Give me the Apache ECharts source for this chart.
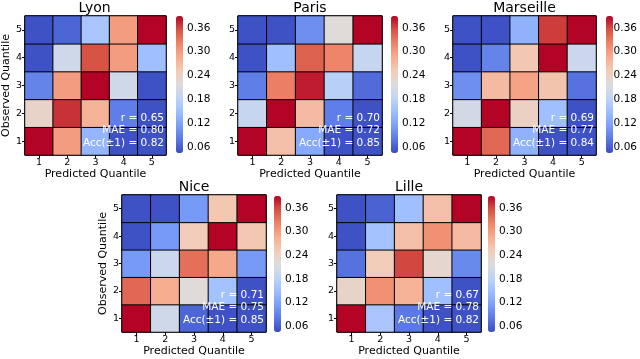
<!DOCTYPE html>
<html>
<head>
<meta charset="utf-8">
<script src="https://cdn.jsdelivr.net/npm/echarts@6/dist/echarts.min.js"></script>
<style>
  html, body { margin: 0; padding: 0; background: #fff; }
  #main { width: 640px; height: 359px; }
</style>
</head>
<body>
<div id="main"></div>
<script>
// data: confusion matrices, rows = observed quantile 1..5, cols = predicted 1..5
var cities = ['Lyon', 'Paris', 'Marseille', 'Nice', 'Lille'];
var quantiles = ['1', '2', '3', '4', '5'];
var cbTicks = [0.06, 0.12, 0.18, 0.24, 0.30, 0.36];
var lyon = [
  [0.39, 0.30, 0.14, 0.05, 0.05],
  [0.235, 0.37, 0.28, 0.085, 0.05],
  [0.09, 0.30, 0.39, 0.20, 0.05],
  [0.05, 0.20, 0.355, 0.30, 0.15],
  [0.05, 0.065, 0.16, 0.30, 0.39]
];
var paris = [
  [0.39, 0.265, 0.125, 0.05, 0.05],
  [0.19, 0.39, 0.27, 0.085, 0.05],
  [0.085, 0.325, 0.38, 0.175, 0.07],
  [0.05, 0.15, 0.345, 0.32, 0.19],
  [0.05, 0.05, 0.10, 0.22, 0.39]
];
var marseille = [
  [0.39, 0.34, 0.135, 0.05, 0.05],
  [0.205, 0.39, 0.24, 0.15, 0.05],
  [0.10, 0.27, 0.295, 0.26, 0.075],
  [0.05, 0.09, 0.255, 0.39, 0.195],
  [0.05, 0.05, 0.135, 0.365, 0.39]
];
var nice = [
  [0.39, 0.20, 0.065, 0.05, 0.05],
  [0.34, 0.285, 0.22, 0.155, 0.05],
  [0.11, 0.195, 0.335, 0.29, 0.11],
  [0.05, 0.11, 0.25, 0.39, 0.255],
  [0.05, 0.05, 0.11, 0.255, 0.39]
];
var lille = [
  [0.39, 0.16, 0.08, 0.05, 0.05],
  [0.235, 0.31, 0.28, 0.15, 0.05],
  [0.075, 0.25, 0.36, 0.23, 0.095],
  [0.05, 0.155, 0.265, 0.31, 0.27],
  [0.05, 0.062, 0.15, 0.265, 0.39]
];
var rVals = ['0.65', '0.70', '0.69', '0.71', '0.67'];
var maeVals = ['0.80', '0.72', '0.77', '0.75', '0.78'];
var accVals = ['0.82', '0.85', '0.84', '0.85', '0.82'];
var matrices = [lyon, paris, marseille, nice, lille];

var vmin = 0.045, vmax = 0.39;
var coolwarm = ['#3b4cc0', '#5a78e4', '#7b9ff9', '#9ebeff', '#c0d4f5', '#dddcdc',
                '#f2cbb7', '#f7ac8e', '#ee8468', '#d65244', '#b40426'];

// layout of each panel (plot box + colorbar)
var panels = [
  { left: 23,  top: 16,  w: 143, h: 139, cb: 176, cbTop: 16,  cbH: 137, ylab: true },
  { left: 238, top: 16,  w: 144, h: 139, cb: 391, cbTop: 16,  cbH: 137, ylab: false },
  { left: 453, top: 16,  w: 143, h: 139, cb: 606, cbTop: 16,  cbH: 137, ylab: false },
  { left: 122, top: 195, w: 144, h: 137, cb: 274, cbTop: 196, cbH: 136, ylab: true },
  { left: 337, top: 195, w: 144, h: 137, cb: 488, cbTop: 196, cbH: 136, ylab: false }
];

var FONT = 'DejaVu Sans';
var grid = [], xAxis = [], yAxis = [], series = [], visualMap = [], graphic = [];

panels.forEach(function (p, i) {
  // heatmap grid
  grid.push({ left: p.left, top: p.top, width: p.w, height: p.h, show: true,
              borderColor: '#000', borderWidth: 1, backgroundColor: 'transparent' });
  xAxis.push({
    gridIndex: 2 * i, type: 'category', data: quantiles,
    name: 'Predicted Quantile', nameLocation: 'middle', nameGap: 14,
    nameTextStyle: { fontSize: 11, fontFamily: FONT, color: '#000' },
    axisLine: { show: false },
    axisTick: { show: true, alignWithLabel: true, length: 3, lineStyle: { color: '#000' } },
    axisLabel: { fontSize: 9.5, fontFamily: FONT, color: '#000', margin: 3 },
    splitLine: { show: false }
  });
  yAxis.push({
    gridIndex: 2 * i, type: 'category', data: quantiles,
    name: p.ylab ? 'Observed Quantile' : '', nameLocation: 'middle', nameGap: 11,
    nameTextStyle: { fontSize: 11, fontFamily: FONT, color: '#000' },
    axisLine: { show: false },
    axisTick: { show: true, alignWithLabel: true, length: 3, lineStyle: { color: '#000' } },
    axisLabel: { fontSize: 9.5, fontFamily: FONT, color: '#000', margin: 3 },
    splitLine: { show: false }
  });
  var data = [];
  matrices[i].forEach(function (row, yi) {
    row.forEach(function (v, xi) { data.push([xi, yi, v]); });
  });
  series.push({
    type: 'heatmap', xAxisIndex: 2 * i, yAxisIndex: 2 * i, data: data,
    itemStyle: { borderColor: '#000', borderWidth: 1 },
    emphasis: { disabled: true }, label: { show: false }
  });

  // colorbar axis grid
  grid.push({ left: p.cb, top: p.cbTop, width: 7, height: p.cbH, show: false });
  xAxis.push({ gridIndex: 2 * i + 1, type: 'value', show: false, min: 0, max: 1 });
  yAxis.push({
    gridIndex: 2 * i + 1, type: 'value', position: 'right', min: vmin, max: vmax,
    axisLine: { show: false }, splitLine: { show: false },
    axisTick: { show: true, length: 3, customValues: cbTicks, lineStyle: { color: '#000' } },
    axisLabel: { customValues: cbTicks, fontSize: 10.5, fontFamily: FONT, color: '#000', margin: 4,
                 formatter: function (v) { return v.toFixed(2); } }
  });

  visualMap.push({
    type: 'continuous', seriesIndex: i, min: vmin, max: vmax,
    left: p.cb, top: p.cbTop, itemWidth: 7, itemHeight: p.cbH, padding: 0,
    calculable: false, realtime: false, hoverLink: false,
    inRange: { color: coolwarm }, textStyle: { fontSize: 0 }
  });

  // title
  graphic.push({ type: 'text', x: p.left + p.w / 2, y: p.top - 8, z: 100,
    style: { text: cities[i], font: '14px "' + FONT + '"', fill: '#000',
             textAlign: 'center', textVerticalAlign: 'middle' } });
  // stats annotation
  var lines = ['r = ' + rVals[i], 'MAE = ' + maeVals[i], 'Acc(\u00b11) = ' + accVals[i]];
  var offs = [37, 25, 12];
  lines.forEach(function (t, k) {
    graphic.push({ type: 'text', x: p.left + p.w - 2, y: p.top + p.h - offs[k], z: 100,
      style: { text: t, font: '10.5px "' + FONT + '"', fill: '#fff',
               textAlign: 'right', textVerticalAlign: 'middle' } });
  });
});

var chart = echarts.init(document.getElementById('main'));
chart.setOption({
  animation: false,
  textStyle: { fontFamily: FONT },
  grid: grid, xAxis: xAxis, yAxis: yAxis,
  visualMap: visualMap, series: series, graphic: graphic
});
</script>
</body>
</html>
